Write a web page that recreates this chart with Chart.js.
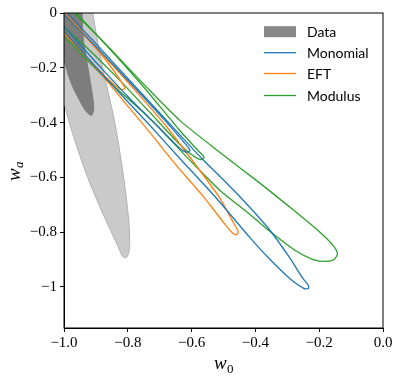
<!DOCTYPE html>
<html>
<head>
<meta charset="utf-8">
<script src="https://cdn.jsdelivr.net/npm/chart.js@4"></script>
<style>
  html, body { margin: 0; padding: 0; background: #fff; }
  #wrap { width: 399px; height: 381px; }
</style>
</head>
<body>
<div id="wrap"><canvas id="chart" width="399" height="381"></canvas></div>
<script>
// axis ticks
const xTicks = [-1.0, -0.8, -0.6, -0.4, -0.2, 0.0];
const xTickLabels = ['−1.0', '−0.8', '−0.6', '−0.4', '−0.2', '0.0'];
const yTicks = [0, -0.2, -0.4, -0.6, -0.8, -1];
const yTickLabels = ['0', '−0.2', '−0.4', '−0.6', '−0.8', '−1'];

// Data contours (w0, wa) - 2 sigma / 1 sigma
const data2s = [[-0.92, 0.12], [-0.91, 0.001], [-0.879, -0.198], [-0.841, -0.399], [-0.813, -0.6],
  [-0.797, -0.758], [-0.794, -0.841], [-0.797, -0.874], [-0.804, -0.893], [-0.816, -0.889], [-0.835, -0.841],
  [-0.873, -0.746], [-0.926, -0.6], [-0.973, -0.44], [-1.002, -0.319], [-1.03, -0.173], [-1.046, 0.01],
  [-1.014, 0.156], [-0.967, 0.211]];
const data1s = [[-0.97, 0.15], [-0.945, 0.02], [-0.941, -0.08], [-0.925, -0.2], [-0.911, -0.3], [-0.907, -0.35],
  [-0.914, -0.374], [-0.93, -0.36], [-0.951, -0.319], [-0.977, -0.257], [-1.0, -0.17], [-1.02, -0.05], [-1.01, 0.1]];

// Monomial
const mono2s = [[-1.014, 0.028], [-0.904, -0.107], [-0.794, -0.246], [-0.684, -0.385], [-0.568, -0.531],
  [-0.495, -0.615], [-0.417, -0.71], [-0.354, -0.794], [-0.291, -0.896], [-0.253, -0.966], [-0.234, -0.995],
  [-0.234, -1.006], [-0.247, -1.006], [-0.285, -0.977], [-0.354, -0.9], [-0.417, -0.82], [-0.527, -0.67],
  [-0.637, -0.531], [-0.731, -0.41], [-0.825, -0.293], [-0.914, -0.18], [-1.002, -0.063], [-1.061, 0.01]];
const mono1s = [[-1.014, 0.01], [-0.904, -0.118], [-0.794, -0.253], [-0.684, -0.392], [-0.621, -0.476],
  [-0.605, -0.502], [-0.615, -0.509], [-0.637, -0.494], [-0.7, -0.421], [-0.794, -0.312], [-0.888, -0.195],
  [-0.983, -0.071], [-1.03, -0.008]];

// EFT
const eft2s = [[-1.014, 0.024], [-0.904, -0.118], [-0.794, -0.26], [-0.684, -0.407], [-0.574, -0.575],
  [-0.511, -0.677], [-0.473, -0.757], [-0.454, -0.798], [-0.458, -0.809], [-0.47, -0.805], [-0.495, -0.772],
  [-0.536, -0.71], [-0.574, -0.655], [-0.653, -0.549], [-0.731, -0.436], [-0.81, -0.326], [-0.888, -0.217],
  [-0.967, -0.114], [-1.03, -0.034]];
const eft1s = [[-1.02, 0.017], [-0.951, -0.063], [-0.873, -0.166], [-0.819, -0.253], [-0.81, -0.275],
  [-0.822, -0.279], [-0.851, -0.253], [-0.92, -0.173], [-0.989, -0.078], [-1.03, -0.019]];

// Modulus
const mod2s = [[-0.998, 0.046], [-0.967, 0.006], [-0.851, -0.136], [-0.731, -0.283], [-0.637, -0.392],
  [-0.511, -0.509], [-0.385, -0.622], [-0.275, -0.725], [-0.197, -0.801], [-0.156, -0.849], [-0.143, -0.878],
  [-0.153, -0.9], [-0.178, -0.907], [-0.219, -0.9], [-0.275, -0.867], [-0.354, -0.798], [-0.432, -0.721],
  [-0.511, -0.648], [-0.605, -0.538], [-0.731, -0.385], [-0.857, -0.253], [-0.951, -0.144], [-1.002, -0.081],
  [-1.046, -0.027]];
const mod1s = [[-1.008, 0.046], [-0.888, -0.092], [-0.763, -0.253], [-0.637, -0.429], [-0.58, -0.502],
  [-0.561, -0.527], [-0.571, -0.535], [-0.596, -0.52], [-0.637, -0.48], [-0.731, -0.363], [-0.825, -0.246],
  [-0.92, -0.136], [-1.002, -0.049], [-1.039, 0.003]];

const BLUE = '#1f77b4', ORANGE = '#ff7f0e', GREEN = '#2ca02c';

const toPts = arr => arr.concat([arr[0]]).map(p => ({ x: p[0], y: p[1] }));

function lineSet(label, arr, color, legend) {
  return {
    label, data: toPts(arr), showLine: true, borderColor: color, borderWidth: 1.3,
    pointRadius: 0, tension: 0.25, fill: false, order: 1, legendItem: legend
  };
}

const datasets = [
  { label: 'Data', data: toPts(data2s), showLine: true, borderColor: '#b0b0b0', borderWidth: 1,
    backgroundColor: '#cacaca', fill: 'shape', pointRadius: 0, tension: 0.3, order: 10, legendItem: false },
  { label: 'Data', data: toPts(data1s), showLine: true, borderColor: '#7a7a7a', borderWidth: 1,
    backgroundColor: '#7d7d7d', fill: 'shape', pointRadius: 0, tension: 0.3, order: 9, legendItem: true,
    legendBox: '#888888' },
  lineSet('Monomial', mono2s, BLUE, true),
  lineSet('Monomial', mono1s, BLUE, false),
  lineSet('EFT', eft2s, ORANGE, true),
  lineSet('EFT', eft1s, ORANGE, false),
  lineSet('Modulus', mod2s, GREEN, true),
  lineSet('Modulus', mod1s, GREEN, false)
];

const tickFont = { family: '"Liberation Serif", serif', size: 15 };

// frame, legend and axis titles
const decor = {
  id: 'decor',
  afterDraw(chart) {
    const { ctx, chartArea: a } = chart;
    ctx.save();
    ctx.strokeStyle = '#000';
    ctx.lineWidth = 1;
    ctx.strokeRect(a.left, a.top, a.right - a.left, a.bottom - a.top);

    // legend
    let row = 0;
    const rows = [31.7, 52.7, 73.5, 95.5];
    chart.data.datasets.forEach(ds => {
      if (!ds.legendItem) return;
      const y = rows[row++];
      if (ds.legendBox) {
        ctx.fillStyle = ds.legendBox;
        ctx.fillRect(264, y - 5.5, 32, 11);
      } else {
        ctx.strokeStyle = ds.borderColor;
        ctx.lineWidth = 1.3;
        ctx.beginPath();
        ctx.moveTo(264, y);
        ctx.lineTo(296, y);
        ctx.stroke();
      }
      ctx.fillStyle = '#000';
      ctx.font = '14px Lato, sans-serif';
      ctx.textBaseline = 'middle';
      ctx.textAlign = 'left';
      ctx.fillText(ds.label, 307, y + 1);
    });

    // axis titles
    ctx.fillStyle = '#000';
    ctx.textBaseline = 'alphabetic';
    ctx.textAlign = 'left';
    ctx.font = 'italic 19px "Liberation Serif", serif';
    ctx.fillText('w', 214, 369);
    ctx.font = '13px "Liberation Serif", serif';
    ctx.fillText('0', 227, 373);

    ctx.translate(20, 181);
    ctx.rotate(-Math.PI / 2);
    ctx.font = 'italic 19px "Liberation Serif", serif';
    ctx.fillText('w', 0, 0);
    ctx.font = 'italic 13px "Liberation Serif", serif';
    ctx.fillText('a', 13, 3);
    ctx.restore();
  }
};

new Chart(document.getElementById('chart'), {
  type: 'scatter',
  data: { datasets },
  options: {
    responsive: false,
    animation: false,
    layout: { padding: { top: 13, right: 16, left: 0, bottom: 0 } },
    plugins: { legend: { display: false }, tooltip: { enabled: false } },
    scales: {
      x: {
        type: 'linear', min: -1, max: 0,
        afterBuildTicks: s => { s.ticks = xTicks.map(v => ({ value: v })); },
        afterFit: s => { s.height = 53; },
        ticks: { callback: (v, i) => xTickLabels[i], font: tickFont, color: '#000', padding: 2, maxRotation: 0, autoSkip: false },
        grid: { drawOnChartArea: false, drawTicks: true, tickLength: 4, color: '#000' },
        border: { display: true, color: '#000', width: 1 }
      },
      y: {
        type: 'linear', min: -1.15, max: 0,
        afterBuildTicks: s => { s.ticks = yTicks.map(v => ({ value: v })); },
        afterFit: s => { s.width = 64; },
        ticks: { callback: (v, i) => yTickLabels[i], font: tickFont, color: '#000', padding: 3, autoSkip: false },
        grid: { drawOnChartArea: false, drawTicks: true, tickLength: 4, color: '#000' },
        border: { display: true, color: '#000', width: 1 }
      }
    }
  },
  plugins: [decor]
});
</script>
</body>
</html>
